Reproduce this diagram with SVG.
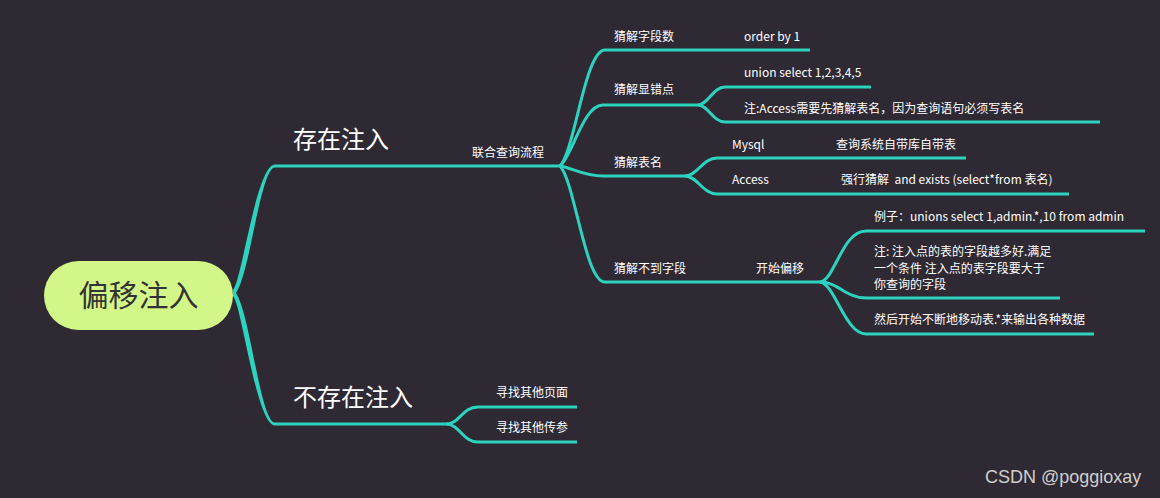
<svg xmlns="http://www.w3.org/2000/svg" width="1160" height="498" viewBox="0 0 1160 498">
  <style>
    .bg { fill: #2e2933; }
    .ln { fill: none; stroke: #2cd3bf; stroke-width: 3; }
    .taper { fill: #2cd3bf; stroke: none; }
    .t { font-family: "Noto Sans CJK SC", "Noto Sans", sans-serif; fill: #ffffff; font-size: 12px; }
    .t2 { font-family: "Noto Sans CJK SC", "Noto Sans", sans-serif; fill: #ffffff; font-size: 24px; }
    .root { fill: #d2f687; }
    .rt { font-family: "Noto Sans CJK SC", "Noto Sans", sans-serif; fill: #333333; font-size: 30px; }
    .wm { font-family: "Liberation Sans", Arial, sans-serif; fill: #cfcfcf; font-size: 18px; }
  </style>
  <rect class="bg" x="0" y="0" width="1160" height="498"/>

  <g id="connectors">
    <path class="taper" d="M233,290 C242,280 256.5,164.5 275,164.5 L560,164.5 L560,167.5 L275,167.5 C259.5,167.5 249,287 233,296 Z"/>
    <path class="taper" d="M233,290 C249,299 259.5,422.5 275,422.5 L446,422.5 L446,425.5 L275,425.5 C256.5,425.5 242,306 233,296 Z"/>
    <path class="ln" d="M560,166 C575,150 585,50 605,50 L810,50"/>
    <path class="ln" d="M560,166 C573,155 583,105 603,105 L698,105"/>
    <path class="ln" d="M560,166 C572,168 584,176 603,176 L685,176"/>
    <path class="ln" d="M560,166 C575,182 585,282 605,282 L820,282"/>
    <path class="ln" d="M698,105 C708,105 713,87 725,87 L871,87"/>
    <path class="ln" d="M698,105 C708,105 713,122 725,122 L1100,122"/>
    <path class="ln" d="M685,176 C697,176 703,158 717,158 L966,158"/>
    <path class="ln" d="M685,176 C697,176 703,194 717,194 L1069,194"/>
    <path class="ln" d="M820,282 C835,280 842,231 866,231 L1145,231"/>
    <path class="ln" d="M820,282 C838,282 846,298 866,298 L1060,298"/>
    <path class="ln" d="M820,282 C835,284 845,334 866,334 L1094,334"/>
    <path class="ln" d="M446,424 C460,424 462,407 478,407 L577,407"/>
    <path class="ln" d="M446,424 C460,424 462,442 478,442 L577,442"/>
  </g>

  <g id="node-root">
    <rect class="root" x="44" y="261" width="189" height="69" rx="34.5"/>
    <text class="rt" x="138.5" y="306" text-anchor="middle">偏移注入</text>
  </g>
  <g id="node-exist"><text class="t2" x="293" y="148">存在注入</text></g>
  <g id="node-union"><text class="t" x="472" y="157">联合查询流程</text></g>
  <g id="node-guess-fields"><text class="t" x="614" y="41">猜解字段数</text></g>
  <g id="node-order"><text class="t" x="744" y="41">order by 1</text></g>
  <g id="node-guess-err"><text class="t" x="614" y="94">猜解显错点</text></g>
  <g id="node-union-select"><text class="t" x="744" y="77">union select 1,2,3,4,5</text></g>
  <g id="node-access-note"><text class="t" x="744" y="113">注:Access需要先猜解表名，因为查询语句必须写表名</text></g>
  <g id="node-guess-table"><text class="t" x="614" y="167">猜解表名</text></g>
  <g id="node-mysql"><text class="t" x="732" y="149">Mysql</text><text class="t" x="836" y="149">查询系统自带库自带表</text></g>
  <g id="node-access"><text class="t" x="732" y="184">Access</text><text class="t" x="841" y="184" xml:space="preserve">强行猜解  and exists (select*from 表名)</text></g>
  <g id="node-no-field"><text class="t" x="614" y="273">猜解不到字段</text></g>
  <g id="node-offset"><text class="t" x="756" y="273">开始偏移</text></g>
  <g id="node-example"><text class="t" x="874" y="221">例子：unions select 1,admin.*,10 from admin</text></g>
  <g id="node-note2">
    <text class="t" x="874" y="256">注: 注入点的表的字段越多好.满足</text>
    <text class="t" x="874" y="273">一个条件 注入点的表字段要大于</text>
    <text class="t" x="874" y="289">你查询的字段</text>
  </g>
  <g id="node-move"><text class="t" x="874" y="324">然后开始不断地移动表.*来输出各种数据</text></g>
  <g id="node-not-exist"><text class="t2" x="293" y="406">不存在注入</text></g>
  <g id="node-other-page"><text class="t" x="496" y="397">寻找其他页面</text></g>
  <g id="node-other-param"><text class="t" x="496" y="432">寻找其他传参</text></g>

  <text class="wm" x="985" y="483">CSDN @poggioxay</text>
</svg>
